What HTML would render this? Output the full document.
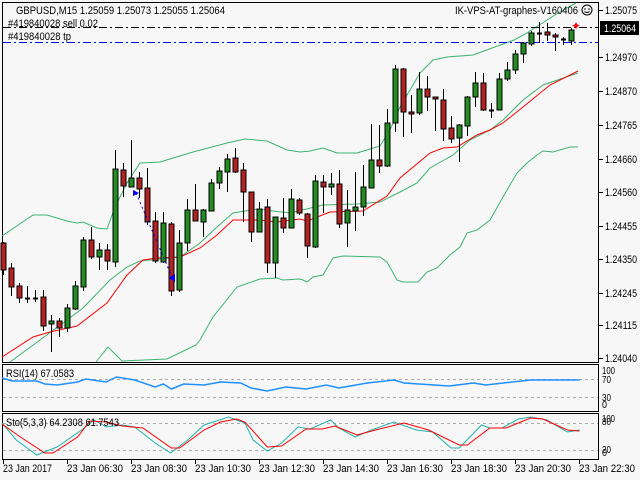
<!DOCTYPE html>
<html><head><meta charset="utf-8"><style>
html,body{margin:0;padding:0;background:#f7f7f7;}
svg{display:block;font-family:"Liberation Sans",sans-serif;}
</style></head><body>
<svg id="s" width="640" height="480" xmlns="http://www.w3.org/2000/svg">
<rect width="640" height="480" fill="#f7f7f7"/>
</svg>
<script>
const s=document.getElementById('s');let h='';
function pl(pts,c,w,extra){return `<polyline fill="none" stroke="${c}" stroke-width="${w||1}" ${extra||''} points="${pts.map(p=>p.join(',')).join(' ')}"/>`;}
function tx(x,y,t,len,fs,extra){return `<text x="${x}" y="${y}" font-size="${fs||11}" textLength="${len}" lengthAdjust="spacingAndGlyphs" ${extra||''}>${t}</text>`;}
h+=`<rect x="2.5" y="2.5" width="596" height="360" fill="#f7f7f7" stroke="#000"/>`;
h+=`<rect x="2.5" y="364.5" width="596" height="47" fill="#f7f7f7" stroke="#000"/>`;
h+=`<rect x="2.5" y="413.5" width="596" height="46" fill="#f7f7f7" stroke="#000"/>`;
const ub=[[2,236],[33,215],[47,215],[67,221],[77,223],[83,222],[97,228],[107,229],[115,207],[127,183],[140,163],[160,162],[193,152],[227,143],[245,139],[267,141],[287,150],[300,152],[310,151],[323,148],[337,153],[357,153],[370,149],[380,146],[390,130],[400,107],[420,73],[433,60],[447,57],[473,55],[514,40],[527,33],[547,20],[563,10],[576,3]];
const lb=[[96,362],[108,347],[122,361],[167,359],[196,345],[200,340],[213,317],[237,287],[260,279],[277,278],[283,280],[300,279],[303,280],[307,282],[313,277],[323,275],[333,258],[343,256],[380,257],[387,262],[397,280],[403,282],[418,282],[427,272],[437,268],[450,255],[460,247],[467,233],[477,230],[490,220],[503,197],[517,173],[527,163],[537,155],[543,151],[553,152],[570,147],[578,147]];
const mb=[[10,362],[40,340],[67,320],[83,308],[110,280],[127,267],[140,261],[160,259],[180,257],[200,243],[217,227],[233,213],[257,209],[273,211],[290,213],[323,205],[357,204],[380,202],[400,192],[417,183],[430,168],[453,155],[470,140],[490,130],[503,120],[523,100],[543,85],[578,73]];
const ma=[[2,357],[33,337],[50,332],[77,326],[107,303],[127,275],[143,260],[157,258],[180,257],[200,248],[217,235],[233,220],[260,220],[277,222],[300,219],[307,221],[330,212],[363,211],[387,196],[400,178],[430,153],[443,148],[457,147],[477,135],[490,130],[503,123],[523,107],[550,85],[578,71]];
h+=pl(ub,'#3cb371');h+=pl(lb,'#3cb371');h+=pl(mb,'#3cb371');h+=pl(ma,'#ff0000');
h+=`<line x1="3" y1="27.5" x2="598" y2="27.5" stroke="#000" stroke-dasharray="8,3,2,3"/>`;
h+=`<line x1="3" y1="42.5" x2="598" y2="42.5" stroke="#0000ff" stroke-dasharray="8,3,2,3"/>`;
const C=[[243,270,242,275,'r'],[268,287,263,296,'r'],[286,298,283,303,'r'],[298,299,286,303,'d'],[298,299,290,302,'d'],[297,326,290,331,'r'],[321,324,315,352,'g'],[321,328,318,337,'r'],[308,328,304,332,'g'],[286,309,281,310,'g'],[240,287,237,291,'g'],[240,257,227,259,'r'],[250,257,243,270,'g'],[250,261,244,270,'r'],[169,262,150,267,'g'],[170,186,163,197,'r'],[178,187,140,187,'g'],[178,189,172,198,'r'],[188,222,168,225,'r'],[221,261,212,263,'r'],[223,262,212,263,'g'],[224,291,222,296,'r'],[243,290,230,292,'g'],[210,243,199,251,'g'],[210,221,184,221,'r'],[210,222,209,237,'g'],[183,211,179,211,'g'],[171,183,167,189,'g'],[159,172,154,192,'g'],[158,172,148,173,'r'],[170,192,163,222,'r'],[192,232,192,242,'r'],[209,232,202,232,'g'],[207,263,199,273,'r'],[217,263,217,278,'g'],[218,228,198,233,'r'],[199,228,189,228,'g'],[200,213,198,215,'r'],[214,246,213,258,'r'],[181,247,175,248,'g'],[182,187,175,213,'r'],[184,187,173,195,'g'],[184,224,170,228,'r'],[210,223,190,247,'g'],[207,211,172,231,'g'],[187,207,165,216,'g'],[160,188,124,188,'g'],[160,166,125,173,'r'],[123,166,109,167,'g'],[69,123,65,132,'g'],[69,112,68,137,'r'],[112,114,95,133,'r'],[89,113,72,115,'g'],[89,97,76,111,'r'],[97,99,97,131,'r'],[100,129,89,141,'r'],[128,139,116,143,'r'],[125,138,124,162,'g'],[97,126,96,136,'g'],[83,97,72,107,'g'],[83,110,73,111,'r'],[110,111,103,118,'d'],[79,110,73,110,'g'],[70,79,62,81,'g'],[54,70,50,74,'g'],[43,54,42,63,'g'],[33,44,31,46,'g'],[33,34,22,43,'d'],[32,35,23,41,'r'],[35,37,33,51,'r'],[39,40,37,45,'d'],[30,41,28,45,'g']];
C.forEach((c,i)=>{const x=3+8*i;const [t,b,hh,l,col]=c;
h+=`<line x1="${x+.5}" y1="${hh}" x2="${x+.5}" y2="${l}" stroke="#000"/>`;
if(col=='d'){h+=`<line x1="${x-2}" y1="${t+.5}" x2="${x+3}" y2="${t+.5}" stroke="#000" stroke-width="2"/>`;}
else h+=`<rect x="${x-2}" y="${t}" width="5" height="${Math.max(b-t,2)}" fill="${col=='g'?'#228b22':'#b22222'}" stroke="#000"/>`;});
h+=`<line x1="136" y1="193" x2="172" y2="277" stroke="#0000ff" stroke-dasharray="2,3"/>`;
h+=`<path d="M133,190 l6,3 l-6,3z" fill="#0000ff"/><path d="M175,274 l-6,4 l6,4z" fill="#0000ff"/>`;
h+=`<text x="576" y="30" font-size="12" fill="#ff0000" text-anchor="middle">✦</text>`;
const py=[['1.25075',10],['1.24970',57],['1.24870',91],['1.24765',125],['1.24660',159],['1.24560',192],['1.24455',226],['1.24350',259],['1.24245',293],['1.24115',325],['1.24040',358]];
py.forEach(p=>{h+=`<line x1="599" y1="${p[1]+.5}" x2="603" y2="${p[1]+.5}" stroke="#000"/>`+tx(605,p[1]+4,p[0],32);});
h+=`<rect x="600" y="21" width="39" height="14" fill="#000"/>`+tx(604,32,'1.25064',32,11,'fill="#fff"');
h+=tx(16,14,'GBPUSD,M15  1.25059 1.25073 1.25055 1.25064',209);
h+=tx(8,27,'#419840028 sell 0.02',90);
h+=tx(8,40,'#419840028 tp',63);
h+=tx(455,14,'IK-VPS-AT-graphes-V160406',123);
h+=`<circle cx="587" cy="10" r="5" fill="none" stroke="#000"/><circle cx="585" cy="9" r=".8"/><circle cx="589" cy="9" r=".8"/><path d="M584.5,11.5 q2.5,2 5,0" fill="none" stroke="#000"/>`;
h+=`<line x1="3" y1="379.5" x2="598" y2="379.5" stroke="#aaa" stroke-dasharray="3,3"/><line x1="3" y1="397.5" x2="598" y2="397.5" stroke="#aaa" stroke-dasharray="3,3"/>`;
const rsi=[[5,378],[30,381],[90,381],[110,384],[140,385],[190,382],[210,379],[260,382],[285,377],[330,380],[380,387],[400,384],[420,389],[450,384],[500,385],[540,382],[590,383],[615,388],[655,391],[700,387],[750,389],[800,385],[830,388],[900,383],[965,380],[990,383],[1100,386],[1160,383],[1190,385],[1300,380],[1420,380]].map(p=>[(p[0]/2.45).toFixed(1),p[1]]);
h+=pl(rsi,'#1e90ff',1.5);
h+=tx(6,377,'RSI(14) 67.0583',68);
[['100',374,13],['70',383,9],['30',401,9],['0',408,5]].forEach(p=>h+=tx(602,p[1],p[0],p[2],10));
h+=`<line x1="3" y1="423.5" x2="598" y2="423.5" stroke="#aaa" stroke-dasharray="3,3"/><line x1="3" y1="450.5" x2="598" y2="450.5" stroke="#aaa" stroke-dasharray="3,3"/>`;
const st=[[5,423],[40,440],[90,455],[140,447],[200,430],[230,420],[260,427],[300,425],[330,427],[380,443],[418,453],[460,440],[500,425],[560,417],[600,423],[620,440],[655,451],[690,443],[730,427],[760,429],[810,420],[830,428],[870,437],[910,430],[965,422],[1020,430],[1060,432],[1105,448],[1125,448],[1180,425],[1200,428],[1230,428],[1270,419],[1300,417],[1340,420],[1390,432],[1420,430]].map(p=>[(p[0]/2.45).toFixed(1),p[1]]);
const sg=[[5,424],[50,437],[110,453],[130,453],[190,437],[220,421],[260,422],[300,426],[350,428],[420,448],[440,448],[500,430],[540,422],[580,419],[600,422],[655,447],[690,446],[750,429],[790,429],[820,426],[875,435],[920,430],[990,423],[1050,430],[1125,445],[1145,445],[1200,428],[1240,428],[1300,418],[1330,419],[1390,430],[1420,431]].map(p=>[(p[0]/2.45).toFixed(1),p[1]]);
h+=pl(st,'#20b2aa');h+=pl(sg,'#ff0000');
h+=tx(6,426,'Sto(5,3,3) 64.2308 61.7543',113);
[['100',422,13],['80',425,9],['20',453,9],['0',456,5]].forEach(p=>h+=tx(602,p[1],p[0],p[2],10));
const tl=['23 Jan 2017','23 Jan 06:30','23 Jan 08:30','23 Jan 10:30','23 Jan 12:30','23 Jan 14:30','23 Jan 16:30','23 Jan 18:30','23 Jan 20:30','23 Jan 22:30'];
tl.forEach((t,i)=>{const x=3+64*i;h+=`<line x1="${x+.5}" y1="460" x2="${x+.5}" y2="464" stroke="#000"/>`+tx(x,472,t,i==0?49:56);});
s.innerHTML+=h;
</script>
</body></html>
